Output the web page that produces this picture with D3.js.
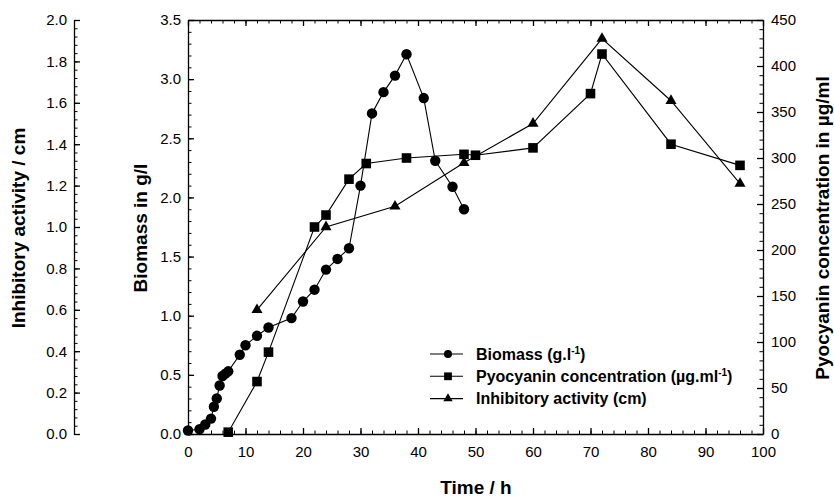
<!DOCTYPE html>
<html>
<head>
<meta charset="utf-8">
<script src="https://cdn.jsdelivr.net/npm/d3@7"></script>
<style>
  html, body { margin: 0; padding: 0; background: #fff; }
  svg { display: block; font-family: "Liberation Sans", Arial, Helvetica, sans-serif; }
  .tick text { font-size: 15px; fill: #000; }
  .title { font-size: 19px; font-weight: bold; fill: #000; }
  .legend text { font-size: 16px; font-weight: bold; fill: #000; }
</style>
</head>
<body>
<svg id="chart" width="834" height="498"></svg>
<script>
// Time course (h) of biomass, pyocyanin production and inhibitory activity
const biomassTime = [0, 2, 3, 4, 4.5, 5, 5.5, 6, 6.5, 7, 9, 10, 12, 14, 18, 20, 22, 24, 26, 28, 30, 32, 34, 36, 38, 41, 43, 46, 48];
const biomassValues = [0.03, 0.04, 0.08, 0.13, 0.23, 0.30, 0.41, 0.49, 0.51, 0.53, 0.67, 0.75, 0.83, 0.90, 0.98, 1.12, 1.22, 1.39, 1.48, 1.57, 2.10, 2.71, 2.89, 3.03, 3.21, 2.84, 2.31, 2.09, 1.90];

const pyocyaninTime = [7, 12, 14, 22, 24, 28, 31, 38, 48, 50, 60, 70, 72, 84, 96];
const pyocyaninValues = [2, 57, 89, 225, 238, 277, 294, 300, 304, 303, 311, 370, 413, 315, 292];

const inhibitionTime = [12, 24, 36, 48, 60, 72, 84, 96];
const inhibitionValues = [0.60, 1.00, 1.10, 1.31, 1.50, 1.91, 1.61, 1.21];

const timeTicks = [0, 10, 20, 30, 40, 50, 60, 70, 80, 90, 100];
const biomassTicks = [0, 0.5, 1.0, 1.5, 2.0, 2.5, 3.0, 3.5];
const pyocyaninTicks = [0, 50, 100, 150, 200, 250, 300, 350, 400, 450];
const inhibitionTicks = [0, 0.2, 0.4, 0.6, 0.8, 1.0, 1.2, 1.4, 1.6, 1.8, 2.0];

const legendLabels = [
  { text: "Biomass (g.l", sup: "-1", tail: ")", symbol: d3.symbolCircle },
  { text: "Pyocyanin concentration (µg.ml", sup: "-1", tail: ")", symbol: d3.symbolSquare },
  { text: "Inhibitory activity (cm)", sup: "", tail: "", symbol: d3.symbolTriangle }
];

const svg = d3.select("#chart");
const plotLeft = 188, plotRight = 763, plotTop = 20, plotBottom = 434;
const inhibAxisX = 74;

const x = d3.scaleLinear().domain([0, 100]).range([plotLeft, plotRight]);
const yB = d3.scaleLinear().domain([0, 3.5]).range([plotBottom, plotTop]);
const yP = d3.scaleLinear().domain([0, 450]).range([plotBottom, plotTop]);
const yI = d3.scaleLinear().domain([0, 2]).range([plotBottom, plotTop]);

const steps = (a, b, s) => d3.range(Math.round((b - a) / s) + 1).map(i => +(a + i * s).toFixed(4));

function styleAxis(g) {
  g.selectAll("path.domain").attr("stroke", "#000").attr("stroke-width", 1.3);
  g.selectAll(".tick line").attr("stroke", "#000").attr("stroke-width", 1.3);
  g.selectAll(".tick text").attr("font-family", null).attr("font-size", null);
}
function minor(g, axis, values, len) {
  g.call(axis.tickValues(values).tickFormat("").tickSize(-len).tickSizeOuter(0));
  g.select("path.domain").remove();
  g.selectAll(".tick line").attr("stroke", "#000").attr("stroke-width", 1);
}

// bottom time axis
const gx = svg.append("g").attr("transform", `translate(0,${plotBottom})`)
  .call(d3.axisBottom(x).tickValues(timeTicks).tickSize(-6).tickSizeOuter(0).tickPadding(12).tickFormat(d3.format("d")));
styleAxis(gx);
minor(svg.append("g").attr("transform", `translate(0,${plotBottom})`), d3.axisBottom(x), steps(0, 100, 2), 3.5);

// top frame axis
const gt = svg.append("g").attr("transform", `translate(0,${plotTop})`)
  .call(d3.axisTop(x).tickValues(timeTicks).tickSize(-6).tickSizeOuter(0).tickFormat(""));
styleAxis(gt);
minor(svg.append("g").attr("transform", `translate(0,${plotTop})`), d3.axisTop(x), steps(0, 100, 2), 3.5);

// biomass axis
const gb = svg.append("g").attr("transform", `translate(${plotLeft},0)`)
  .call(d3.axisLeft(yB).tickValues(biomassTicks).tickSize(-6).tickSizeOuter(0).tickPadding(7).tickFormat(d3.format(".1f")));
styleAxis(gb);
minor(svg.append("g").attr("transform", `translate(${plotLeft},0)`), d3.axisLeft(yB), steps(0, 3.5, 0.1), 3.5);

// pyocyanin axis
const gp = svg.append("g").attr("transform", `translate(${plotRight},0)`)
  .call(d3.axisRight(yP).tickValues(pyocyaninTicks).tickSize(-6).tickSizeOuter(0).tickPadding(8).tickFormat(d3.format("d")));
styleAxis(gp);
minor(svg.append("g").attr("transform", `translate(${plotRight},0)`), d3.axisRight(yP), steps(0, 450, 10), 3.5);

// inhibitory activity axis (offset)
const gi = svg.append("g").attr("transform", `translate(${inhibAxisX},0)`)
  .call(d3.axisLeft(yI).tickValues(inhibitionTicks).tickSize(-6).tickSizeOuter(0).tickPadding(7).tickFormat(d3.format(".1f")));
styleAxis(gi);
minor(svg.append("g").attr("transform", `translate(${inhibAxisX},0)`), d3.axisLeft(yI), steps(0, 2, 0.04), 3.5);

// axis titles
svg.append("text").attr("class", "title").attr("x", 476).attr("y", 494).attr("text-anchor", "middle").text("Time / h");
svg.append("text").attr("class", "title").attr("text-anchor", "middle")
  .attr("transform", "translate(25,228) rotate(-90)").text("Inhibitory activity / cm");
svg.append("text").attr("class", "title").attr("text-anchor", "middle")
  .attr("transform", "translate(147,228) rotate(-90)").text("Biomass in g/l");
svg.append("text").attr("class", "title").attr("text-anchor", "middle")
  .attr("transform", "translate(829,228) rotate(-90)").text("Pyocyanin concentration in µg/ml");

// series
function series(times, values, yScale, symbol, size) {
  const pts = times.map((t, i) => [x(t), yScale(values[i])]);
  svg.append("path").attr("d", d3.line()(pts)).attr("fill", "none").attr("stroke", "#000").attr("stroke-width", 1.1);
  svg.append("g").selectAll("path").data(pts).join("path")
    .attr("transform", d => `translate(${d[0]},${d[1]})`)
    .attr("d", d3.symbol().type(symbol).size(size))
    .attr("fill", "#000");
}
series(inhibitionTime, inhibitionValues, yI, d3.symbolTriangle, 53);
series(pyocyaninTime, pyocyaninValues, yP, d3.symbolSquare, 92);
series(biomassTime, biomassValues, yB, d3.symbolCircle, 85);

// legend
const lg = svg.append("g").attr("class", "legend");
const legendSizes = [50, 60, 38];
legendLabels.forEach((d, i) => {
  const cy = 354 + i * 22.3;
  lg.append("line").attr("x1", 430).attr("x2", 463).attr("y1", cy).attr("y2", cy).attr("stroke", "#000").attr("stroke-width", 1.1);
  lg.append("path").attr("transform", `translate(448,${cy})`).attr("d", d3.symbol().type(d.symbol).size(legendSizes[i])).attr("fill", "#000");
  const t = lg.append("text").attr("x", 476).attr("y", cy + 5.7);
  t.append("tspan").text(d.text);
  if (d.sup) {
    t.append("tspan").attr("dy", -6).attr("font-size", "10px").text(d.sup);
    t.append("tspan").attr("dy", 6).text(d.tail);
  }
});
</script>
</body>
</html>
